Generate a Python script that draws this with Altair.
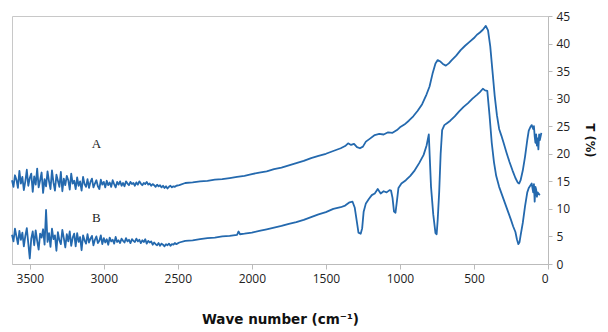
import altair as alt
import pandas as pd

# ---- noisy high-wavenumber region (cm^-1), step 10 ----
wn_noisy = [3620 - 10 * i for i in range(112)]
A_noisy = [15.2, 14.0, 16.1, 15.3, 13.8, 16.9, 14.6, 15.8, 13.4, 15.0,
           17.1, 14.2, 15.6, 16.4, 13.1, 15.9, 14.4, 17.3, 13.9, 15.2,
           16.6, 12.9, 15.4, 14.1, 16.8, 15.0, 13.6, 17.0, 14.8, 13.3,
           16.2, 15.1, 14.0, 16.7, 13.2, 15.5, 14.3, 16.0, 15.2, 13.5,
           16.4, 14.6, 15.1,
           13.6, 15.7, 14.2, 15.0, 13.3, 15.8, 14.5, 14.0, 15.4, 13.8,
           14.9, 15.5, 13.9, 14.6, 15.2, 14.1, 13.6, 15.3, 14.4, 14.9,
           13.9, 15.1, 14.3, 14.8, 14.0, 15.2, 14.5, 13.9, 14.9, 14.4,
           15.0, 14.2, 14.7, 14.1, 15.0, 14.6, 14.3, 14.9, 14.5, 14.7,
           14.2, 14.8, 14.4, 15.0, 14.6, 14.3, 14.7, 14.5, 14.9, 14.4,
           14.6, 14.2, 14.5, 14.3, 14.0, 14.4, 14.1, 14.3, 13.9, 14.2,
           13.8, 14.1, 13.7, 14.0, 14.2, 13.9, 14.1, 14.0, 14.2]
B_noisy = [5.3, 4.1, 6.4, 5.0, 3.6, 6.0, 4.4, 5.7, 3.2, 5.1,
           6.5, 3.8, 1.0, 4.6, 5.9, 3.4, 6.1, 4.2, 2.6, 5.5,
           4.8, 6.3, 3.5, 9.8, 4.0, 5.6, 3.1, 6.4, 4.5, 5.2,
           2.4, 5.8, 4.3, 3.6, 6.2, 4.7, 3.0, 5.4, 4.1, 5.9,
           3.3, 4.8, 5.5,
           3.2, 5.6, 4.0, 4.9, 2.5, 5.2, 4.3, 3.7, 5.4, 3.9,
           4.6, 5.1, 3.4, 4.4, 5.0, 3.8, 4.2, 5.2, 3.6, 4.7,
           3.9, 4.5, 3.5, 4.8, 4.1, 4.4, 3.7, 4.9, 4.0, 4.3,
           3.8, 4.6, 4.2, 3.9, 4.7, 4.1, 4.4, 3.8, 4.5, 4.2,
           4.0, 4.6, 4.1, 4.4, 3.8, 4.3, 4.0, 4.5, 3.7, 4.2,
           3.9, 4.1, 3.5, 3.9, 3.6, 3.4, 3.8, 3.3, 3.7, 3.5,
           3.2, 3.6, 3.4, 3.7, 3.3, 3.6, 3.5, 3.8, 3.6]

# ---- smoother low-wavenumber region ----
A_wn = [2490, 2450, 2400, 2350, 2300, 2250, 2200, 2150, 2100, 2050, 2000, 1950,
        1900, 1850, 1800, 1750, 1700, 1650, 1600, 1550, 1500, 1450, 1400, 1370,
        1350, 1330, 1310, 1290, 1270, 1250, 1230, 1200, 1170, 1140, 1110, 1080,
        1050, 1020, 1000, 970, 940, 910, 880, 850, 820, 800, 780, 760, 745, 730,
        710, 690, 670, 650, 620, 590, 560, 530, 500, 480, 460, 440, 420, 405,
        390, 375, 360, 345, 330, 315, 300, 280, 260, 240, 220, 205, 195, 185,
        170, 155, 140, 130, 120, 110, 100, 95, 90, 85, 80, 75, 70, 65, 60, 55, 45]
A_T = [14.3, 14.7, 14.8, 15.0, 15.1, 15.3, 15.4, 15.6, 15.8, 16.0, 16.3, 16.6,
       16.8, 17.2, 17.5, 17.9, 18.3, 18.7, 19.2, 19.6, 20.0, 20.5, 21.0, 21.4,
       21.9, 21.6, 21.8, 21.2, 21.0, 21.3, 22.2, 22.8, 23.4, 23.6, 23.5, 23.9,
       23.8, 24.3, 24.8, 25.3, 26.0, 26.8, 27.8, 29.0, 30.8, 32.2, 34.5, 36.4, 37.0, 36.8,
       36.3, 36.0, 36.4, 37.0, 37.8, 38.8, 39.6, 40.3, 41.0, 41.6, 42.0, 42.5, 43.2, 42.4,
       39.5, 35.0, 30.5, 27.0, 24.5, 23.3, 22.0, 20.2, 18.5, 17.0, 15.6, 14.8, 14.6, 15.2,
       17.0, 19.5, 22.5, 24.2, 24.8, 25.2, 24.5, 25.0, 23.2, 22.0, 23.5, 21.5, 22.8, 20.8, 23.5, 22.5, 23.8]

B_wn = [2490, 2450, 2400, 2350, 2300, 2250, 2200, 2150, 2100, 2090, 2080, 2050, 2000,
        1950, 1900, 1850, 1800, 1750, 1700, 1650, 1600, 1550, 1500, 1450, 1400,
        1370, 1340, 1320, 1305, 1290, 1280, 1265, 1255, 1245, 1230, 1210, 1190,
        1170, 1150, 1130, 1110, 1090, 1070, 1060, 1050, 1040, 1030, 1020, 1010,
        990, 960, 930, 900, 870, 840, 820, 805, 798, 790, 775, 760, 752, 745, 735,
        725, 715, 700, 680, 660, 630, 600, 570, 540, 510, 480, 460, 440, 425, 410,
        395, 380, 365, 350, 330, 310, 290, 270, 250, 235, 220, 210, 200, 192, 185,
        170, 155, 140, 130, 120, 110, 100, 95, 90, 85, 80, 75, 70, 65, 55]
B_T = [3.9, 4.2, 4.3, 4.5, 4.7, 4.8, 5.0, 5.1, 5.3, 5.9, 5.4, 5.5, 5.7,
       6.0, 6.3, 6.6, 6.9, 7.3, 7.6, 8.0, 8.5, 9.0, 9.4, 10.0, 10.3,
       10.6, 11.2, 11.3, 10.2, 7.5, 5.7, 5.5, 6.5, 9.5, 11.0, 11.8, 12.5,
       12.8, 13.6, 12.8, 13.2, 13.0, 13.4, 13.3, 12.0, 9.5, 9.3, 11.5, 13.8,
       14.6, 15.2, 16.0, 17.0, 18.3, 19.8, 21.5, 23.5, 19.0, 14.0, 9.0, 5.6, 5.4, 8.0, 13.0,
       20.0, 24.3, 25.2, 25.6, 26.0, 26.8, 27.7, 28.5, 29.2, 30.0, 30.7, 31.2, 31.8, 31.5, 31.4,
       27.0, 22.0, 18.5, 16.0, 14.0, 12.5, 11.0, 9.5, 8.0, 6.8, 5.8, 4.5, 3.6, 4.0, 5.2,
       7.5, 10.5, 13.0, 13.8, 14.2, 14.6, 13.0, 14.5, 11.3, 14.0, 13.5, 12.2, 13.0, 12.8, 12.5]

x_ticks = [0, 500, 1000, 1500, 2000, 2500, 3000, 3500]
y_ticks = [0, 5, 10, 15, 20, 25, 30, 35, 40, 45]
label_text = ["A", "B"]
label_wn = [3050, 3050]
label_T = [21.8, 8.3]

rows = []
for w, t in zip(wn_noisy + A_wn, A_noisy + A_T):
    rows.append({"wn": w, "T": t, "s": "A"})
for w, t in zip(wn_noisy + B_wn, B_noisy + B_T):
    rows.append({"wn": w, "T": t, "s": "B"})
df = pd.DataFrame(rows)
df["order"] = -df["wn"]

lab = pd.DataFrame({"wn": label_wn, "T": label_T, "t": label_text})

xs = alt.Scale(domain=[0, 3620], reverse=True, nice=False, zero=False)
ys = alt.Scale(domain=[0, 45], nice=False)

x_axis = alt.Axis(
    values=x_ticks, format="d", title="Wave number (cm⁻¹)", grid=False,
    labelFont="Open Sans", labelFontSize=12, labelColor="#222", labelOverlap=False,
    titleFont="DejaVu Sans", titleFontSize=13.5, titleFontWeight="bold", titleColor="#111",
    titlePadding=28, domainColor="#bbbbbb", tickColor="#bbbbbb", tickSize=5, labelPadding=4)
y_axis = alt.Axis(
    orient="right", values=y_ticks, format="d", title="T (%)", grid=False,
    labelFont="Open Sans", labelFontSize=12, labelColor="#222", labelOverlap=False,
    titleFont="DejaVu Sans", titleFontSize=11.5, titleFontWeight="bold", titleColor="#111",
    titleAngle=90, titlePadding=14, domainColor="#bbbbbb", tickColor="#bbbbbb", tickSize=4,
    labelPadding=4)

lines = alt.Chart(df).mark_line(color="#2469ae", strokeWidth=1.8, strokeJoin="round").encode(
    x=alt.X("wn:Q", scale=xs, axis=x_axis),
    y=alt.Y("T:Q", scale=ys, axis=y_axis),
    detail="s:N",
    order="order:Q",
)

texts = alt.Chart(lab).mark_text(font="Liberation Serif", fontSize=13, color="#222").encode(
    x=alt.X("wn:Q", scale=xs, axis=x_axis),
    y=alt.Y("T:Q", scale=ys, axis=y_axis),
    text="t:N",
)

chart = alt.layer(lines, texts).properties(
    width=536, height=248,
    padding={"left": 12, "top": 16, "right": 60, "bottom": 68},
    autosize=alt.AutoSizeParams(type="none"),
    background="white",
).configure_view(stroke="#c8c8c8", strokeWidth=1)

chart.save("out.html", embed_options={"renderer": "svg", "actions": False})
